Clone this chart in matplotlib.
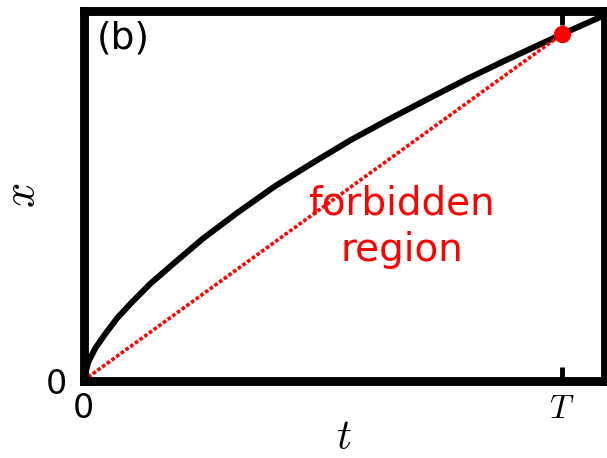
import matplotlib
matplotlib.use("Agg")
import matplotlib.pyplot as plt

plt.rcParams['mathtext.fontset'] = 'cm'

# trajectory x(t)
t = [0, 0.01, 0.025, 0.045, 0.07, 0.1, 0.14, 0.19, 0.25, 0.32, 0.4, 0.48,
     0.56, 0.64, 0.72, 0.8, 0.88, 0.96, 1.0, 1.09]
x = [0, 0.05, 0.088, 0.125, 0.168, 0.21, 0.262, 0.318, 0.384, 0.452, 0.525,
     0.589, 0.651, 0.707, 0.761, 0.814, 0.864, 0.912, 0.936, 0.988]

# end point at t = T and the straight chord to it
T = 1.0
x_T = 0.936
t_max = 1.09

fig = plt.figure(figsize=(6.07, 4.58), dpi=100)
ax = fig.add_axes([83.5 / 607, 77.5 / 458, 521.5 / 607, 370 / 458])

ax.plot(t, x, color='black', lw=4.3, solid_capstyle='butt',
        solid_joinstyle='round')
ax.plot([0, T], [0, x_T], color='red', lw=2.6, dashes=(1, 0.6))
ax.plot([T], [x_T], 'o', color='red', ms=11.5, clip_on=False, zorder=5)

ax.set_xlim(0, t_max)
ax.set_ylim(0, 1.0)

ax.set_xticks([0, T])
ax.set_xticklabels(['0', '$T$'])
ax.set_yticks([0])
ax.set_yticklabels(['0'])
ax.tick_params(axis='x', direction='in', top=True, length=10, width=3.5,
               labelsize=24, pad=8)
ax.tick_params(axis='y', direction='in', length=0, labelsize=24, pad=12)

for s in ax.spines.values():
    s.set_linewidth(6.4)

ax.set_xlabel('$t$', fontsize=30, labelpad=-6)
ax.set_ylabel('$x$', fontsize=32, labelpad=2)

ax.text(0.026, 0.974, '(b)', transform=ax.transAxes, fontsize=27,
        ha='left', va='top')
ax.text(0.61, 0.416, 'forbidden\nregion', transform=ax.transAxes,
        fontsize=28, color='red', ha='center', va='center', linespacing=1.3)

fig.savefig('out.png', dpi=100)
